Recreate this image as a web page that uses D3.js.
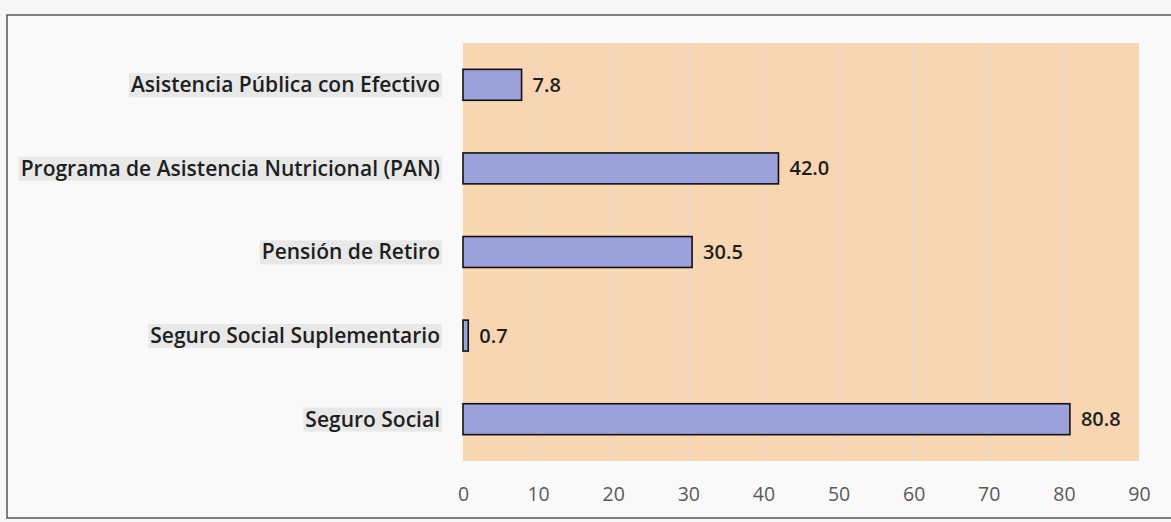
<!DOCTYPE html>
<html>
<head>
<meta charset="utf-8">
<script src="https://cdn.jsdelivr.net/npm/d3@7"></script>
<style>
  body { margin: 0; background: #f7f7f7; }
  svg { display: block; }
</style>
</head>
<body>
<div id="chart"></div>
<script>
// ---------- Data ----------
var categories = ["Asistencia Pública con Efectivo", "Programa de Asistencia Nutricional (PAN)",
                  "Pensión de Retiro", "Seguro Social Suplementario", "Seguro Social"];
var values = [7.8, 42.0, 30.5, 0.7, 80.8];
var xTicks = [0, 10, 20, 30, 40, 50, 60, 70, 80, 90];

var width = 1171, height = 522;
var plot = {left: 463, right: 1139, top: 43, bottom: 461};
var labelFont = "'Open Sans', Lato, sans-serif";

var svg = d3.select("#chart").append("svg")
    .attr("width", width)
    .attr("height", height);

// ---------- Outer frame ----------
svg.append("rect")
    .attr("x", 7).attr("y", 15)
    .attr("width", 1180).attr("height", 503)
    .style("fill", "#f9f9f9")
    .style("stroke", "#555")
    .style("stroke-width", 1.5);

var x = d3.scaleLinear().domain([0, 90]).range([plot.left, plot.right]);
var y = d3.scaleBand().domain(categories).range([plot.top, plot.bottom]).paddingInner(0.63).paddingOuter(0.315);

// plot background
svg.append("rect")
    .attr("x", plot.left).attr("y", plot.top)
    .attr("width", plot.right - plot.left).attr("height", plot.bottom - plot.top)
    .style("fill", "#f9d6b3");

// gridlines
svg.append("g").selectAll("line")
    .data(xTicks.slice(1, -1))
    .enter().append("line")
    .attr("x1", function(d){ return x(d); })
    .attr("x2", function(d){ return x(d); })
    .attr("y1", plot.top).attr("y2", plot.bottom)
    .style("stroke", "#e2d6d8")
    .style("stroke-width", 1.2);

// x axis labels
var xAxis = d3.axisBottom(x).tickValues(xTicks).tickSize(0).tickPadding(0);
var gx = svg.append("g")
    .attr("transform", "translate(0," + (plot.bottom + 40) + ")")
    .call(xAxis);
gx.select(".domain").remove();
gx.selectAll("text")
    .attr("dy", 0)
    .style("font-family", labelFont)
    .style("font-size", "19.5px")
    .style("fill", "#5a5a5a");

// category labels with gray highlight
var labels = svg.append("g").selectAll("g.cat")
    .data(categories)
    .enter().append("g")
    .attr("class", "cat");

labels.append("text")
    .attr("x", 440)
    .attr("y", function(d){ return y(d) + y.bandwidth() / 2; })
    .attr("dy", "0.35em")
    .attr("text-anchor", "end")
    .style("font-family", labelFont)
    .style("font-weight", 600)
    .style("font-size", "21px")
    .style("fill", "#1e1e1e")
    .text(function(d){ return d; })
    .each(function(){
        var b = this.getBBox();
        d3.select(this.parentNode).insert("rect", "text")
            .attr("x", b.x - 2).attr("y", b.y + 3)
            .attr("width", b.width + 4).attr("height", b.height - 4)
            .style("fill", "#e8e8e8");
    });

// bars
svg.append("g").selectAll("rect")
    .data(values)
    .enter().append("rect")
    .attr("x", x(0))
    .attr("y", function(d, i){ return y(categories[i]); })
    .attr("width", function(d){ return x(d) - x(0); })
    .attr("height", y.bandwidth())
    .style("fill", "#9da1d9")
    .style("stroke", "#111")
    .style("stroke-width", 1.6);

// value labels
svg.append("g").selectAll("text")
    .data(values)
    .enter().append("text")
    .attr("x", function(d){ return x(d) + 11; })
    .attr("y", function(d, i){ return y(categories[i]) + y.bandwidth() / 2; })
    .attr("dy", "0.35em")
    .style("font-family", labelFont)
    .style("font-weight", 600)
    .style("font-size", "20px")
    .style("fill", "#1e1e1e")
    .text(function(d){ return d.toFixed(1); });
</script>
</body>
</html>
